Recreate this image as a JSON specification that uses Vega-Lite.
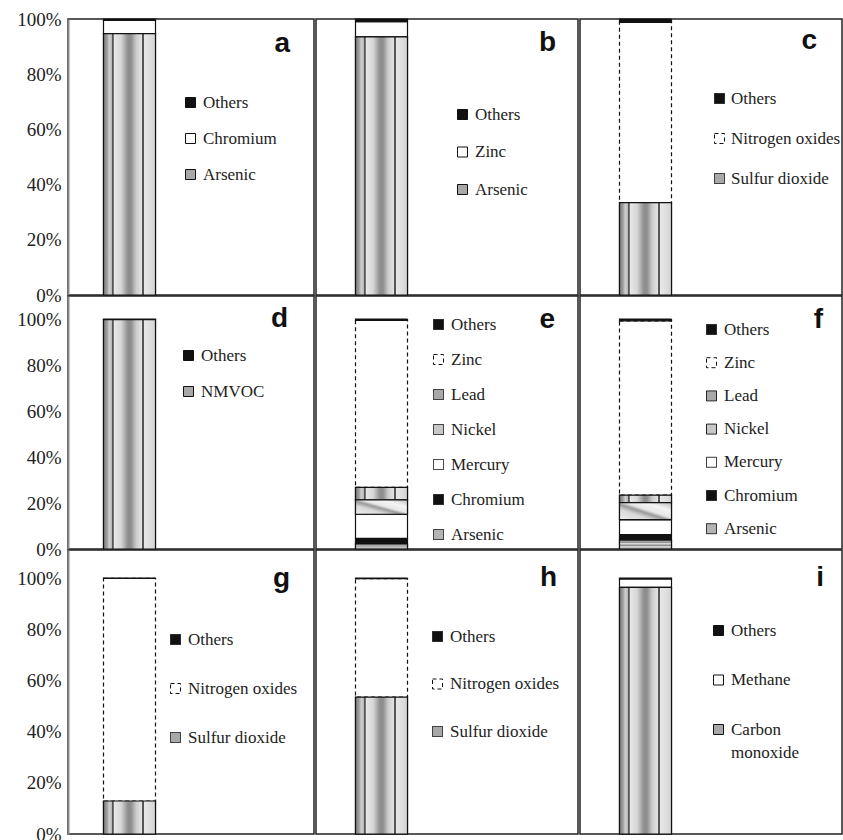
{
"$schema":"https://vega.github.io/schema/vega-lite/v6.json",
"padding":{"left":15,"top":9,"right":0,"bottom":0},
"autosize":{"type":"pad"},
"data":{"values":[
{"panel":"a","pollutant":"Arsenic","value":94.7},
{"panel":"a","pollutant":"Chromium","value":4.8},
{"panel":"a","pollutant":"Others","value":0.5},
{"panel":"b","pollutant":"Arsenic","value":93.5},
{"panel":"b","pollutant":"Zinc","value":5.5},
{"panel":"b","pollutant":"Others","value":1.0},
{"panel":"c","pollutant":"Sulfur dioxide","value":33.5},
{"panel":"c","pollutant":"Nitrogen oxides","value":65.3},
{"panel":"c","pollutant":"Others","value":1.2},
{"panel":"d","pollutant":"NMVOC","value":99.7},
{"panel":"d","pollutant":"Others","value":0.3},
{"panel":"e","pollutant":"Arsenic","value":2.2},
{"panel":"e","pollutant":"Chromium","value":2.4},
{"panel":"e","pollutant":"Mercury","value":10.5},
{"panel":"e","pollutant":"Nickel","value":6.3},
{"panel":"e","pollutant":"Lead","value":5.4},
{"panel":"e","pollutant":"Zinc","value":72.6},
{"panel":"e","pollutant":"Others","value":0.6},
{"panel":"f","pollutant":"Arsenic","value":3.9},
{"panel":"f","pollutant":"Chromium","value":2.4},
{"panel":"f","pollutant":"Mercury","value":6.5},
{"panel":"f","pollutant":"Nickel","value":7.4},
{"panel":"f","pollutant":"Lead","value":3.2},
{"panel":"f","pollutant":"Zinc","value":75.8},
{"panel":"f","pollutant":"Others","value":0.8},
{"panel":"g","pollutant":"Sulfur dioxide","value":12.9},
{"panel":"g","pollutant":"Nitrogen oxides","value":87.0},
{"panel":"g","pollutant":"Others","value":0.1},
{"panel":"h","pollutant":"Sulfur dioxide","value":53.5},
{"panel":"h","pollutant":"Nitrogen oxides","value":46.3},
{"panel":"h","pollutant":"Others","value":0.2},
{"panel":"i","pollutant":"Carbon monoxide","value":96.4},
{"panel":"i","pollutant":"Methane","value":3.3},
{"panel":"i","pollutant":"Others","value":0.3}
]},
"columns":3,
"align":"each",
"bounds":"flush",
"spacing":{"row":1,"column":2},
"resolve":{"scale":{"x":"independent","y":"independent","fill":"independent","strokeDash":"independent"},"legend":{"fill":"independent","strokeDash":"independent"}},
"concat":[
{"width":246,"height":276,
"title":{"text":"a","offset":-48,"dx":-24},
"transform":[{"filter":"datum.panel == 'a'"},{"window":[{"op":"row_number","as":"idx"}]},{"stack":"value","groupby":[],"sort":[{"field":"idx","order":"ascending"}],"offset":"normalize","as":["y0","y1"]}],
"encoding":{"x":{"datum":"bar","type":"nominal","scale":{"domain":["bar","legend"],"paddingInner":0,"paddingOuter":0},"axis":null},
"y":{"field":"y0","type":"quantitative","scale":{"domain":[0,1],"nice":false},"axis":{"values":[0,0.2,0.4,0.6,0.8,1],"format":".0%","title":null}},
"y2":{"field":"y1"}},
"layer":[
{"mark":{"type":"bar","width":52,"stroke":"#111","strokeWidth":1.2},
"encoding":{"fill":{"field":"pollutant","type":"nominal","scale":{"domain":["Others","Chromium","Arsenic"],"range":["#111111","#ffffff","#a8a8a8"]},"legend":{"title":null,"orient":"none","legendX":114,"legendY":75,"rowPadding":18,"encode":{"labels":{"update":{"font":{"value":"Liberation Serif"},"fontSize":{"value":17}}}}}}}},
{"transform":[{"filter":"datum.pollutant == 'Arsenic'"}],
"mark":{"type":"bar","width":52,"stroke":"#111","strokeWidth":1.2,"fill":{"gradient":"linear","x1":0,"y1":0,"x2":1,"y2":0,"stops":[{"offset":0,"color":"#7a7a7a"},{"offset":0.07,"color":"#a0a0a0"},{"offset":0.11,"color":"#cfcfcf"},{"offset":0.16,"color":"#b8b8b8"},{"offset":0.17,"color":"#555555"},{"offset":0.19,"color":"#555555"},{"offset":0.2,"color":"#e8e8e8"},{"offset":0.34,"color":"#d6d6d6"},{"offset":0.47,"color":"#8e8e8e"},{"offset":0.53,"color":"#8e8e8e"},{"offset":0.63,"color":"#cccccc"},{"offset":0.74,"color":"#e4e4e4"},{"offset":0.75,"color":"#555555"},{"offset":0.775,"color":"#555555"},{"offset":0.785,"color":"#e8e8e8"},{"offset":1,"color":"#d4d4d4"}]}}}
]},
{"width":262,"height":276,
"title":{"text":"b","offset":-39,"dx":-22},
"transform":[{"filter":"datum.panel == 'b'"},{"window":[{"op":"row_number","as":"idx"}]},{"stack":"value","groupby":[],"sort":[{"field":"idx","order":"ascending"}],"offset":"normalize","as":["y0","y1"]}],
"encoding":{"x":{"datum":"bar","type":"nominal","scale":{"domain":["bar","legend"],"paddingInner":0,"paddingOuter":0},"axis":null},
"y":{"field":"y0","type":"quantitative","scale":{"domain":[0,1],"nice":false},"axis":null},
"y2":{"field":"y1"}},
"layer":[
{"mark":{"type":"bar","width":52,"stroke":"#111","strokeWidth":1.2},
"encoding":{"fill":{"field":"pollutant","type":"nominal","scale":{"domain":["Others","Zinc","Arsenic"],"range":["#111111","#ffffff","#a8a8a8"]},"legend":{"title":null,"orient":"none","legendX":138,"legendY":87,"rowPadding":19.5,"encode":{"labels":{"update":{"font":{"value":"Liberation Serif"},"fontSize":{"value":17}}}}}}}},
{"transform":[{"filter":"datum.pollutant == 'Arsenic'"}],
"mark":{"type":"bar","width":52,"stroke":"#111","strokeWidth":1.2,"fill":{"gradient":"linear","x1":0,"y1":0,"x2":1,"y2":0,"stops":[{"offset":0,"color":"#7a7a7a"},{"offset":0.07,"color":"#a0a0a0"},{"offset":0.11,"color":"#cfcfcf"},{"offset":0.16,"color":"#b8b8b8"},{"offset":0.17,"color":"#555555"},{"offset":0.19,"color":"#555555"},{"offset":0.2,"color":"#e8e8e8"},{"offset":0.34,"color":"#d6d6d6"},{"offset":0.47,"color":"#8e8e8e"},{"offset":0.53,"color":"#8e8e8e"},{"offset":0.63,"color":"#cccccc"},{"offset":0.74,"color":"#e4e4e4"},{"offset":0.75,"color":"#555555"},{"offset":0.775,"color":"#555555"},{"offset":0.785,"color":"#e8e8e8"},{"offset":1,"color":"#d4d4d4"}]}}}
]},
{"width":262,"height":276,
"title":{"text":"c","offset":-37,"dx":-25},
"transform":[{"filter":"datum.panel == 'c'"},{"window":[{"op":"row_number","as":"idx"}]},{"stack":"value","groupby":[],"sort":[{"field":"idx","order":"ascending"}],"offset":"normalize","as":["y0","y1"]}],
"encoding":{"x":{"datum":"bar","type":"nominal","scale":{"domain":["bar","legend"],"paddingInner":0,"paddingOuter":0},"axis":null},
"y":{"field":"y0","type":"quantitative","scale":{"domain":[0,1],"nice":false},"axis":null},
"y2":{"field":"y1"}},
"layer":[
{"mark":{"type":"bar","width":52,"stroke":"#111","strokeWidth":1.2},
"encoding":{"fill":{"field":"pollutant","type":"nominal","scale":{"domain":["Others","Nitrogen oxides","Sulfur dioxide"],"range":["#111111","#ffffff","#a8a8a8"]},"legend":{"title":null,"orient":"none","legendX":131,"legendY":71,"rowPadding":22,"labelOffset":3,"encode":{"labels":{"update":{"font":{"value":"Liberation Serif"},"fontSize":{"value":17}}}}}},
"strokeDash":{"field":"pollutant","type":"nominal","scale":{"domain":["Others","Nitrogen oxides","Sulfur dioxide"],"range":[[1,0],[4,3],[1,0]]},"legend":{"title":null,"orient":"none","legendX":131,"legendY":71,"rowPadding":22,"labelOffset":3,"encode":{"labels":{"update":{"font":{"value":"Liberation Serif"},"fontSize":{"value":17}}}}}}}},
{"transform":[{"filter":"datum.pollutant == 'Sulfur dioxide'"}],
"mark":{"type":"bar","width":52,"stroke":"#111","strokeWidth":1.2,"fill":{"gradient":"linear","x1":0,"y1":0,"x2":1,"y2":0,"stops":[{"offset":0,"color":"#7a7a7a"},{"offset":0.07,"color":"#a0a0a0"},{"offset":0.11,"color":"#cfcfcf"},{"offset":0.16,"color":"#b8b8b8"},{"offset":0.17,"color":"#555555"},{"offset":0.19,"color":"#555555"},{"offset":0.2,"color":"#e8e8e8"},{"offset":0.34,"color":"#d6d6d6"},{"offset":0.47,"color":"#8e8e8e"},{"offset":0.53,"color":"#8e8e8e"},{"offset":0.63,"color":"#cccccc"},{"offset":0.74,"color":"#e4e4e4"},{"offset":0.75,"color":"#555555"},{"offset":0.775,"color":"#555555"},{"offset":0.785,"color":"#e8e8e8"},{"offset":1,"color":"#d4d4d4"}]}}}
]},
{"width":246,"height":253,
"title":{"text":"d","offset":-37,"dx":-26},
"transform":[{"filter":"datum.panel == 'd'"},{"window":[{"op":"row_number","as":"idx"}]},{"stack":"value","groupby":[],"sort":[{"field":"idx","order":"ascending"}],"offset":"normalize","as":["y0","y1"]}],
"encoding":{"x":{"datum":"bar","type":"nominal","scale":{"domain":["bar","legend"],"paddingInner":0,"paddingOuter":0},"axis":null},
"y":{"field":"y0","type":"quantitative","scale":{"domain":[0,1.1],"nice":false},"axis":{"values":[0,0.2,0.4,0.6,0.8,1],"format":".0%","title":null}},
"y2":{"field":"y1"}},
"layer":[
{"mark":{"type":"bar","width":52,"stroke":"#111","strokeWidth":1.2},
"encoding":{"fill":{"field":"pollutant","type":"nominal","scale":{"domain":["Others","NMVOC"],"range":["#111111","#a8a8a8"]},"legend":{"title":null,"orient":"none","legendX":112,"legendY":51,"rowPadding":18,"encode":{"labels":{"update":{"font":{"value":"Liberation Serif"},"fontSize":{"value":17}}}}}}}},
{"transform":[{"filter":"datum.pollutant == 'NMVOC'"}],
"mark":{"type":"bar","width":52,"stroke":"#111","strokeWidth":1.2,"fill":{"gradient":"linear","x1":0,"y1":0,"x2":1,"y2":0,"stops":[{"offset":0,"color":"#7a7a7a"},{"offset":0.07,"color":"#a0a0a0"},{"offset":0.11,"color":"#cfcfcf"},{"offset":0.16,"color":"#b8b8b8"},{"offset":0.17,"color":"#555555"},{"offset":0.19,"color":"#555555"},{"offset":0.2,"color":"#e8e8e8"},{"offset":0.34,"color":"#d6d6d6"},{"offset":0.47,"color":"#8e8e8e"},{"offset":0.53,"color":"#8e8e8e"},{"offset":0.63,"color":"#cccccc"},{"offset":0.74,"color":"#e4e4e4"},{"offset":0.75,"color":"#555555"},{"offset":0.775,"color":"#555555"},{"offset":0.785,"color":"#e8e8e8"},{"offset":1,"color":"#d4d4d4"}]}}}
]},
{"width":262,"height":253,
"title":{"text":"e","offset":-38,"dx":-23},
"transform":[{"filter":"datum.panel == 'e'"},{"window":[{"op":"row_number","as":"idx"}]},{"stack":"value","groupby":[],"sort":[{"field":"idx","order":"ascending"}],"offset":"normalize","as":["y0","y1"]}],
"encoding":{"x":{"datum":"bar","type":"nominal","scale":{"domain":["bar","legend"],"paddingInner":0,"paddingOuter":0},"axis":null},
"y":{"field":"y0","type":"quantitative","scale":{"domain":[0,1.1],"nice":false},"axis":null},
"y2":{"field":"y1"}},
"layer":[
{"mark":{"type":"bar","width":52,"stroke":"#111","strokeWidth":1.2},
"encoding":{"fill":{"field":"pollutant","type":"nominal","scale":{"domain":["Others","Zinc","Lead","Nickel","Mercury","Chromium","Arsenic"],"range":["#111111","#ffffff","#a8a8a8","#c8c8c8","#ffffff","#111111","#b4b4b4"]},"legend":{"title":null,"orient":"none","legendX":114,"legendY":20,"rowPadding":17,"encode":{"labels":{"update":{"font":{"value":"Liberation Serif"},"fontSize":{"value":17}}}}}},
"strokeDash":{"field":"pollutant","type":"nominal","scale":{"domain":["Others","Zinc","Lead","Nickel","Mercury","Chromium","Arsenic"],"range":[[1,0],[4,3],[1,0],[1,0],[1,0],[1,0],[1,0]]},"legend":{"title":null,"orient":"none","legendX":114,"legendY":20,"rowPadding":17,"encode":{"labels":{"update":{"font":{"value":"Liberation Serif"},"fontSize":{"value":17}}}}}}}},
{"transform":[{"filter":"datum.pollutant == 'Lead'"}],
"mark":{"type":"bar","width":52,"stroke":"#111","strokeWidth":1.2,"fill":{"gradient":"linear","x1":0,"y1":0,"x2":1,"y2":0,"stops":[{"offset":0,"color":"#7a7a7a"},{"offset":0.07,"color":"#a0a0a0"},{"offset":0.11,"color":"#cfcfcf"},{"offset":0.16,"color":"#b8b8b8"},{"offset":0.17,"color":"#555555"},{"offset":0.19,"color":"#555555"},{"offset":0.2,"color":"#e8e8e8"},{"offset":0.34,"color":"#d6d6d6"},{"offset":0.47,"color":"#8e8e8e"},{"offset":0.53,"color":"#8e8e8e"},{"offset":0.63,"color":"#cccccc"},{"offset":0.74,"color":"#e4e4e4"},{"offset":0.75,"color":"#555555"},{"offset":0.775,"color":"#555555"},{"offset":0.785,"color":"#e8e8e8"},{"offset":1,"color":"#d4d4d4"}]}}},
{"transform":[{"filter":"datum.pollutant == 'Nickel'"}],
"mark":{"type":"bar","width":52,"stroke":"#111","strokeWidth":1.2,"fill":{"gradient":"linear","x1":0,"y1":1,"x2":1,"y2":0,"stops":[{"offset":0,"color":"#eeeeee"},{"offset":0.3,"color":"#d8d8d8"},{"offset":0.45,"color":"#9a9a9a"},{"offset":0.55,"color":"#e8e8e8"},{"offset":0.75,"color":"#f4f4f4"},{"offset":1,"color":"#bbbbbb"}]}}},
{"transform":[{"filter":"datum.pollutant == 'Arsenic'"}],
"mark":{"type":"bar","width":52,"stroke":"#111","strokeWidth":1.2,"fill":{"gradient":"linear","x1":0,"y1":0,"x2":0,"y2":1,"stops":[{"offset":0,"color":"#cccccc"},{"offset":0.25,"color":"#8a8a8a"},{"offset":0.4,"color":"#dddddd"},{"offset":0.6,"color":"#8a8a8a"},{"offset":0.75,"color":"#dddddd"},{"offset":1,"color":"#999999"}]}}}
]},
{"width":262,"height":253,
"title":{"text":"f","offset":-38,"dx":-19},
"transform":[{"filter":"datum.panel == 'f'"},{"window":[{"op":"row_number","as":"idx"}]},{"stack":"value","groupby":[],"sort":[{"field":"idx","order":"ascending"}],"offset":"normalize","as":["y0","y1"]}],
"encoding":{"x":{"datum":"bar","type":"nominal","scale":{"domain":["bar","legend"],"paddingInner":0,"paddingOuter":0},"axis":null},
"y":{"field":"y0","type":"quantitative","scale":{"domain":[0,1.1],"nice":false},"axis":null},
"y2":{"field":"y1"}},
"layer":[
{"mark":{"type":"bar","width":52,"stroke":"#111","strokeWidth":1.2},
"encoding":{"fill":{"field":"pollutant","type":"nominal","scale":{"domain":["Others","Zinc","Lead","Nickel","Mercury","Chromium","Arsenic"],"range":["#111111","#ffffff","#a8a8a8","#c8c8c8","#ffffff","#111111","#b4b4b4"]},"legend":{"title":null,"orient":"none","legendX":123,"legendY":25,"rowPadding":15.2,"encode":{"labels":{"update":{"font":{"value":"Liberation Serif"},"fontSize":{"value":17}}}}}},
"strokeDash":{"field":"pollutant","type":"nominal","scale":{"domain":["Others","Zinc","Lead","Nickel","Mercury","Chromium","Arsenic"],"range":[[1,0],[4,3],[1,0],[1,0],[1,0],[1,0],[1,0]]},"legend":{"title":null,"orient":"none","legendX":123,"legendY":25,"rowPadding":15.2,"encode":{"labels":{"update":{"font":{"value":"Liberation Serif"},"fontSize":{"value":17}}}}}}}},
{"transform":[{"filter":"datum.pollutant == 'Lead'"}],
"mark":{"type":"bar","width":52,"stroke":"#111","strokeWidth":1.2,"fill":{"gradient":"linear","x1":0,"y1":0,"x2":1,"y2":0,"stops":[{"offset":0,"color":"#7a7a7a"},{"offset":0.07,"color":"#a0a0a0"},{"offset":0.11,"color":"#cfcfcf"},{"offset":0.16,"color":"#b8b8b8"},{"offset":0.17,"color":"#555555"},{"offset":0.19,"color":"#555555"},{"offset":0.2,"color":"#e8e8e8"},{"offset":0.34,"color":"#d6d6d6"},{"offset":0.47,"color":"#8e8e8e"},{"offset":0.53,"color":"#8e8e8e"},{"offset":0.63,"color":"#cccccc"},{"offset":0.74,"color":"#e4e4e4"},{"offset":0.75,"color":"#555555"},{"offset":0.775,"color":"#555555"},{"offset":0.785,"color":"#e8e8e8"},{"offset":1,"color":"#d4d4d4"}]}}},
{"transform":[{"filter":"datum.pollutant == 'Nickel'"}],
"mark":{"type":"bar","width":52,"stroke":"#111","strokeWidth":1.2,"fill":{"gradient":"linear","x1":0,"y1":1,"x2":1,"y2":0,"stops":[{"offset":0,"color":"#eeeeee"},{"offset":0.3,"color":"#d8d8d8"},{"offset":0.45,"color":"#9a9a9a"},{"offset":0.55,"color":"#e8e8e8"},{"offset":0.75,"color":"#f4f4f4"},{"offset":1,"color":"#bbbbbb"}]}}},
{"transform":[{"filter":"datum.pollutant == 'Arsenic'"}],
"mark":{"type":"bar","width":52,"stroke":"#111","strokeWidth":1.2,"fill":{"gradient":"linear","x1":0,"y1":0,"x2":0,"y2":1,"stops":[{"offset":0,"color":"#cccccc"},{"offset":0.25,"color":"#8a8a8a"},{"offset":0.4,"color":"#dddddd"},{"offset":0.6,"color":"#8a8a8a"},{"offset":0.75,"color":"#dddddd"},{"offset":1,"color":"#999999"}]}}}
]},
{"width":246,"height":284,
"title":{"text":"g","offset":-43,"dx":-24},
"transform":[{"filter":"datum.panel == 'g'"},{"window":[{"op":"row_number","as":"idx"}]},{"stack":"value","groupby":[],"sort":[{"field":"idx","order":"ascending"}],"offset":"normalize","as":["y0","y1"]}],
"encoding":{"x":{"datum":"bar","type":"nominal","scale":{"domain":["bar","legend"],"paddingInner":0,"paddingOuter":0},"axis":null},
"y":{"field":"y0","type":"quantitative","scale":{"domain":[0,1.11],"nice":false},"axis":{"values":[0,0.2,0.4,0.6,0.8,1],"format":".0%","title":null}},
"y2":{"field":"y1"}},
"layer":[
{"mark":{"type":"bar","width":52,"stroke":"#111","strokeWidth":1.2},
"encoding":{"fill":{"field":"pollutant","type":"nominal","scale":{"domain":["Others","Nitrogen oxides","Sulfur dioxide"],"range":["#111111","#ffffff","#a8a8a8"]},"legend":{"title":null,"orient":"none","legendX":99,"legendY":81,"rowPadding":31,"encode":{"labels":{"update":{"font":{"value":"Liberation Serif"},"fontSize":{"value":17}}}}}},
"strokeDash":{"field":"pollutant","type":"nominal","scale":{"domain":["Others","Nitrogen oxides","Sulfur dioxide"],"range":[[1,0],[4,3],[1,0]]},"legend":{"title":null,"orient":"none","legendX":99,"legendY":81,"rowPadding":31,"encode":{"labels":{"update":{"font":{"value":"Liberation Serif"},"fontSize":{"value":17}}}}}}}},
{"transform":[{"filter":"datum.pollutant == 'Sulfur dioxide'"}],
"mark":{"type":"bar","width":52,"stroke":"#111","strokeWidth":1.2,"fill":{"gradient":"linear","x1":0,"y1":0,"x2":1,"y2":0,"stops":[{"offset":0,"color":"#7a7a7a"},{"offset":0.07,"color":"#a0a0a0"},{"offset":0.11,"color":"#cfcfcf"},{"offset":0.16,"color":"#b8b8b8"},{"offset":0.17,"color":"#555555"},{"offset":0.19,"color":"#555555"},{"offset":0.2,"color":"#e8e8e8"},{"offset":0.34,"color":"#d6d6d6"},{"offset":0.47,"color":"#8e8e8e"},{"offset":0.53,"color":"#8e8e8e"},{"offset":0.63,"color":"#cccccc"},{"offset":0.74,"color":"#e4e4e4"},{"offset":0.75,"color":"#555555"},{"offset":0.775,"color":"#555555"},{"offset":0.785,"color":"#e8e8e8"},{"offset":1,"color":"#d4d4d4"}]}}}
]},
{"width":262,"height":284,
"title":{"text":"h","offset":-42,"dx":-21},
"transform":[{"filter":"datum.panel == 'h'"},{"window":[{"op":"row_number","as":"idx"}]},{"stack":"value","groupby":[],"sort":[{"field":"idx","order":"ascending"}],"offset":"normalize","as":["y0","y1"]}],
"encoding":{"x":{"datum":"bar","type":"nominal","scale":{"domain":["bar","legend"],"paddingInner":0,"paddingOuter":0},"axis":null},
"y":{"field":"y0","type":"quantitative","scale":{"domain":[0,1.11],"nice":false},"axis":null},
"y2":{"field":"y1"}},
"layer":[
{"mark":{"type":"bar","width":52,"stroke":"#111","strokeWidth":1.2},
"encoding":{"fill":{"field":"pollutant","type":"nominal","scale":{"domain":["Others","Nitrogen oxides","Sulfur dioxide"],"range":["#111111","#ffffff","#a8a8a8"]},"legend":{"title":null,"orient":"none","legendX":113,"legendY":78,"rowPadding":29.5,"encode":{"labels":{"update":{"font":{"value":"Liberation Serif"},"fontSize":{"value":17}}}}}},
"strokeDash":{"field":"pollutant","type":"nominal","scale":{"domain":["Others","Nitrogen oxides","Sulfur dioxide"],"range":[[1,0],[4,3],[1,0]]},"legend":{"title":null,"orient":"none","legendX":113,"legendY":78,"rowPadding":29.5,"encode":{"labels":{"update":{"font":{"value":"Liberation Serif"},"fontSize":{"value":17}}}}}}}},
{"transform":[{"filter":"datum.pollutant == 'Sulfur dioxide'"}],
"mark":{"type":"bar","width":52,"stroke":"#111","strokeWidth":1.2,"fill":{"gradient":"linear","x1":0,"y1":0,"x2":1,"y2":0,"stops":[{"offset":0,"color":"#7a7a7a"},{"offset":0.07,"color":"#a0a0a0"},{"offset":0.11,"color":"#cfcfcf"},{"offset":0.16,"color":"#b8b8b8"},{"offset":0.17,"color":"#555555"},{"offset":0.19,"color":"#555555"},{"offset":0.2,"color":"#e8e8e8"},{"offset":0.34,"color":"#d6d6d6"},{"offset":0.47,"color":"#8e8e8e"},{"offset":0.53,"color":"#8e8e8e"},{"offset":0.63,"color":"#cccccc"},{"offset":0.74,"color":"#e4e4e4"},{"offset":0.75,"color":"#555555"},{"offset":0.775,"color":"#555555"},{"offset":0.785,"color":"#e8e8e8"},{"offset":1,"color":"#d4d4d4"}]}}}
]},
{"width":262,"height":284,
"title":{"text":"i","offset":-42,"dx":-18},
"transform":[{"filter":"datum.panel == 'i'"},{"window":[{"op":"row_number","as":"idx"}]},{"stack":"value","groupby":[],"sort":[{"field":"idx","order":"ascending"}],"offset":"normalize","as":["y0","y1"]}],
"encoding":{"x":{"datum":"bar","type":"nominal","scale":{"domain":["bar","legend"],"paddingInner":0,"paddingOuter":0},"axis":null},
"y":{"field":"y0","type":"quantitative","scale":{"domain":[0,1.11],"nice":false},"axis":null},
"y2":{"field":"y1"}},
"layer":[
{"mark":{"type":"bar","width":52,"stroke":"#111","strokeWidth":1.2},
"encoding":{"fill":{"field":"pollutant","type":"nominal","scale":{"domain":["Others","Methane","Carbon monoxide"],"range":["#111111","#ffffff","#a8a8a8"]},"legend":{"title":null,"orient":"none","legendX":130,"legendY":72,"rowPadding":31.5,"labelExpr":"datum.label == 'Carbon monoxide' ? ['Carbon', 'monoxide'] : datum.label","encode":{"labels":{"update":{"font":{"value":"Liberation Serif"},"fontSize":{"value":17},"lineHeight":{"value":23}}}}}}}},
{"transform":[{"filter":"datum.pollutant == 'Carbon monoxide'"}],
"mark":{"type":"bar","width":52,"stroke":"#111","strokeWidth":1.2,"fill":{"gradient":"linear","x1":0,"y1":0,"x2":1,"y2":0,"stops":[{"offset":0,"color":"#7a7a7a"},{"offset":0.07,"color":"#a0a0a0"},{"offset":0.11,"color":"#cfcfcf"},{"offset":0.16,"color":"#b8b8b8"},{"offset":0.17,"color":"#555555"},{"offset":0.19,"color":"#555555"},{"offset":0.2,"color":"#e8e8e8"},{"offset":0.34,"color":"#d6d6d6"},{"offset":0.47,"color":"#8e8e8e"},{"offset":0.53,"color":"#8e8e8e"},{"offset":0.63,"color":"#cccccc"},{"offset":0.74,"color":"#e4e4e4"},{"offset":0.75,"color":"#555555"},{"offset":0.775,"color":"#555555"},{"offset":0.785,"color":"#e8e8e8"},{"offset":1,"color":"#d4d4d4"}]}}}
]}
],
"config":{
"view":{"stroke":"#222222","strokeWidth":1.5},
"title":{"font":"Liberation Sans","fontSize":28,"fontWeight":"bold","color":"#111111","anchor":"end","baseline":"alphabetic","orient":"top"},
"axis":{"ticks":false,"grid":false,"labelFont":"Liberation Serif","labelFontSize":19,"labelColor":"#222222","labelPadding":7,"domainColor":"#888888","domainWidth":2},
"legend":{"padding":0,"labelFont":"Liberation Serif","labelFontSize":17,"labelColor":"#222222","symbolType":"square","symbolSize":100,"symbolStrokeColor":"#111111","symbolStrokeWidth":1,"labelOffset":4,"symbolFillColor":"#ffffff"}
}
}
